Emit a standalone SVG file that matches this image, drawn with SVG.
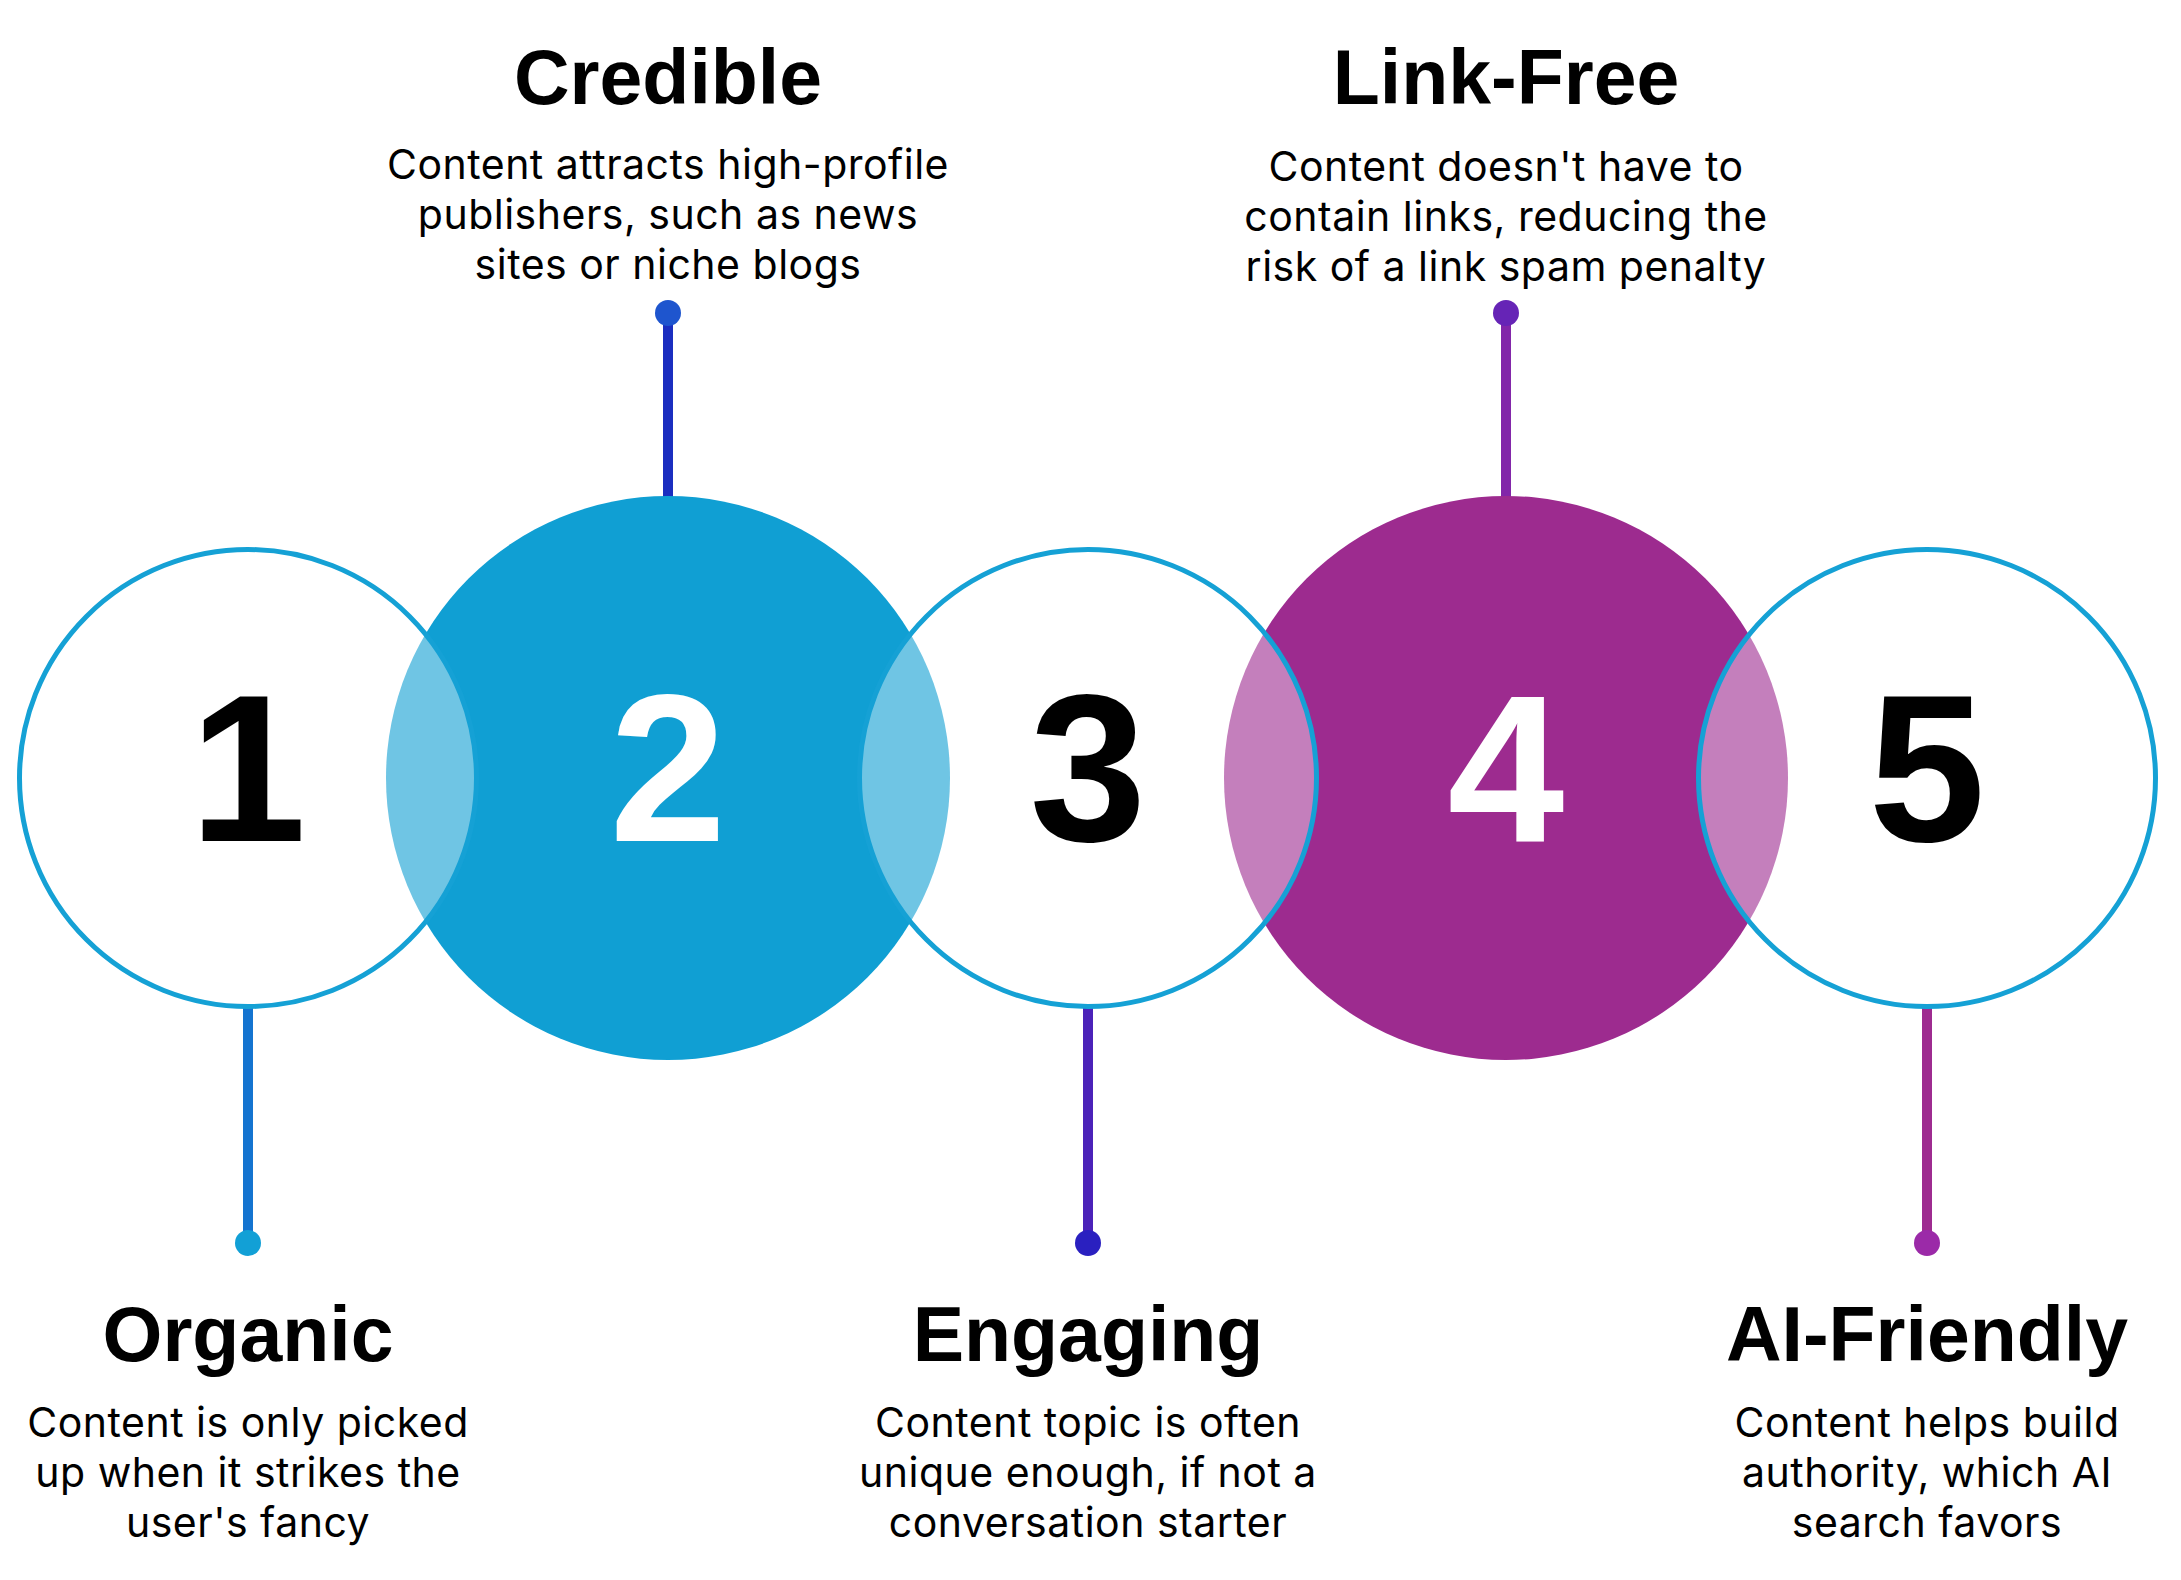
<svg xmlns="http://www.w3.org/2000/svg" width="2181" height="1580" viewBox="0 0 2181 1580">
<style>
.bg{fill:#ffffff}
.fillBlue{fill:#109FD3}
.fillPurple{fill:#9D2B8F}
.ring{fill:#ffffff;fill-opacity:0.4;stroke:#15A1D5;stroke-width:5}
.num{font-family:"Liberation Sans",Arial,sans-serif;font-weight:700;font-size:210px;text-anchor:middle}
.dark{fill:#000000}
.light{fill:#ffffff}
.title{font-family:"Liberation Sans",Arial,sans-serif;font-weight:700;font-size:77px;text-anchor:middle;fill:#000000}
.desc{font-family:Inter,"Noto Sans",sans-serif;font-size:41px;letter-spacing:0.5px;text-anchor:middle;fill:#000000}
.conn{stroke-width:10;fill:none}
</style>
<rect class="bg" x="0" y="0" width="2181" height="1580"/>
<g id="connectors">
  <line class="conn" x1="248" y1="1005" x2="248" y2="1243" stroke="#1474D0"/>
  <circle cx="248" cy="1243" r="13" fill="#12A0D6"/>
  <line class="conn" x1="668" y1="313" x2="668" y2="505" stroke="#1B2EC0"/>
  <circle cx="668" cy="313" r="13" fill="#1E55CE"/>
  <line class="conn" x1="1088" y1="1005" x2="1088" y2="1243" stroke="#4B22B9"/>
  <circle cx="1088" cy="1243" r="13" fill="#2A20C0"/>
  <line class="conn" x1="1506" y1="313" x2="1506" y2="505" stroke="#8226A9"/>
  <circle cx="1506" cy="313" r="13" fill="#6624B6"/>
  <line class="conn" x1="1927" y1="1005" x2="1927" y2="1243" stroke="#9E2B90"/>
  <circle cx="1927" cy="1243" r="13" fill="#9B2AA8"/>
</g>
<g id="node2">
  <circle class="fillBlue" cx="668" cy="778" r="282"/>
</g>
<g id="node4">
  <circle class="fillPurple" cx="1506" cy="778" r="282"/>
</g>
<g id="node1">
  <circle class="ring" cx="248" cy="778" r="228.5"/>
  <text class="num dark" x="248" y="841">1</text>
  <text class="title" x="248" y="1361">Organic</text>
  <text class="desc" x="248" y="1437">Content is only picked</text>
  <text class="desc" x="248" y="1487">up when it strikes the</text>
  <text class="desc" x="248" y="1537">user's fancy</text>
</g>
<g id="node3">
  <circle class="ring" cx="1088" cy="778" r="228.5"/>
  <text class="num dark" x="1088" y="841">3</text>
  <text class="title" x="1088" y="1361">Engaging</text>
  <text class="desc" x="1088" y="1437">Content topic is often</text>
  <text class="desc" x="1088" y="1487">unique enough, if not a</text>
  <text class="desc" x="1088" y="1537">conversation starter</text>
</g>
<g id="node5">
  <circle class="ring" cx="1927" cy="778" r="228.5"/>
  <text class="num dark" x="1927" y="841">5</text>
  <text class="title" x="1927" y="1361">AI-Friendly</text>
  <text class="desc" x="1927" y="1437">Content helps build</text>
  <text class="desc" x="1927" y="1487">authority, which AI</text>
  <text class="desc" x="1927" y="1537">search favors</text>
</g>
<g id="node2-text">
  <text class="num light" x="668" y="841">2</text>
  <text class="title" x="668" y="104">Credible</text>
  <text class="desc" x="668" y="179">Content attracts high-profile</text>
  <text class="desc" x="668" y="229">publishers, such as news</text>
  <text class="desc" x="668" y="279">sites or niche blogs</text>
</g>
<g id="node4-text">
  <text class="num light" x="1506" y="841">4</text>
  <text class="title" x="1506" y="104">Link-Free</text>
  <text class="desc" x="1506" y="181">Content doesn't have to</text>
  <text class="desc" x="1506" y="231">contain links, reducing the</text>
  <text class="desc" x="1506" y="281">risk of a link spam penalty</text>
</g>
</svg>
